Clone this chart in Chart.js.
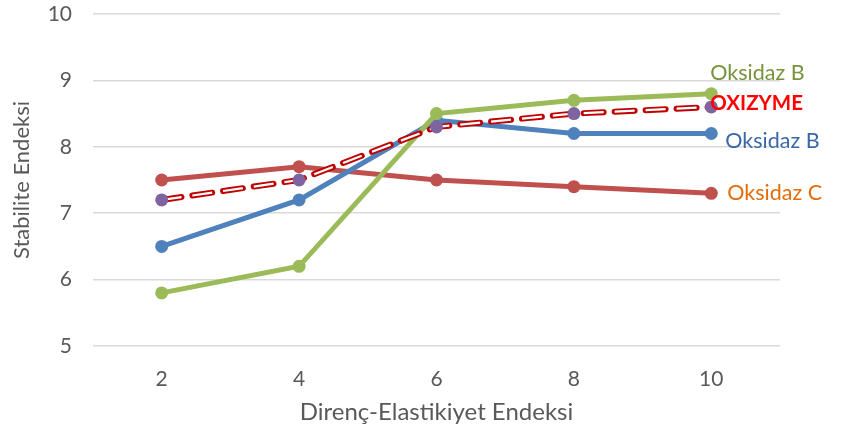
<!DOCTYPE html>
<html>
<head>
<meta charset="utf-8">
<script src="https://cdn.jsdelivr.net/npm/chart.js@4"></script>
<style>
  html, body { margin: 0; padding: 0; background: #fff; }
  #wrap { width: 849px; height: 436px; }
</style>
</head>
<body>
<div id="wrap"><canvas id="chart" width="849" height="436"></canvas></div>
<script>
// x categories (Direnç-Elastikiyet Endeksi)
const categories = ['2', '4', '6', '8', '10'];

// series values (Stabilite Endeksi)
const blueSeries   = [6.5, 7.2, 8.4, 8.2, 8.2];
const redSeries    = [7.5, 7.7, 7.5, 7.4, 7.3];
const greenSeries  = [5.8, 6.2, 8.5, 8.7, 8.8];
const oxizymeSeries = [7.2, 7.5, 8.3, 8.5, 8.6];

const seriesNames = ['Oksidaz B', 'Oksidaz C', 'Oksidaz B', 'OXIZYME'];

const yTicks = [5, 6, 7, 8, 9, 10];

const FONT = 'Lato, "Open Sans", sans-serif';
const GREY = '#595959';

// labels drawn at the right end of each line
const endLabels = {
  id: 'endLabels',
  afterDatasetsDraw(chart) {
    const ctx = chart.ctx;
    const items = [
      { ds: 2, text: seriesNames[2], color: '#77933C', bold: false, dx: -1, dy: -21 },
      { ds: 4, text: seriesNames[3], color: '#FF0000', bold: true,  dx: -1, dy: -4 },
      { ds: 1, text: seriesNames[0], color: '#3A68A6', bold: false, dx: 14, dy: 8 },
      { ds: 0, text: seriesNames[1], color: '#E46C0A', bold: false, dx: 16, dy: 0 }
    ];
    ctx.save();
    ctx.textBaseline = 'middle';
    ctx.textAlign = 'left';
    items.forEach(it => {
      const meta = chart.getDatasetMeta(it.ds);
      const pt = meta.data[meta.data.length - 1];
      ctx.font = (it.bold ? 'bold 20.5px ' : '21.5px ') + FONT;
      ctx.fillStyle = it.color;
      ctx.fillText(it.text, pt.x + it.dx, pt.y + it.dy);
    });
    ctx.restore();
  }
};

new Chart(document.getElementById('chart'), {
  type: 'line',
  data: {
    labels: categories,
    datasets: [
      { label: seriesNames[1], data: redSeries, borderColor: '#C0504D', backgroundColor: '#C0504D',
        borderWidth: 5, pointRadius: 6.5, pointBorderWidth: 0, order: 4 },
      { label: seriesNames[0], data: blueSeries, borderColor: '#4F81BD', backgroundColor: '#4F81BD',
        borderWidth: 5, pointRadius: 6.5, pointBorderWidth: 0, order: 3 },
      { label: seriesNames[2], data: greenSeries, borderColor: '#9BBB59', backgroundColor: '#9BBB59',
        borderWidth: 5, pointRadius: 6.5, pointBorderWidth: 0, order: 2 },
      // dashed outline for OXIZYME: red dashes with a white core
      { label: seriesNames[3] + ' outline', data: oxizymeSeries, borderColor: '#C00000',
        borderWidth: 6, borderDash: [20, 11], borderCapStyle: 'round', pointRadius: 0, order: 1 },
      { label: seriesNames[3], data: oxizymeSeries, borderColor: '#FFFFFF',
        borderWidth: 2.2, borderDash: [20, 11], pointRadius: 6.5, pointBorderWidth: 0,
        pointBackgroundColor: '#8064A2', order: 0 }
    ]
  },
  options: {
    responsive: false,
    animation: false,
    layout: { padding: { top: 14, right: 69, bottom: 0, left: 0 } },
    plugins: { legend: { display: false }, tooltip: { enabled: false } },
    scales: {
      x: {
        offset: true,
        grid: { display: false, drawTicks: false },
        border: { display: false },
        ticks: { color: GREY, font: { family: FONT, size: 21 }, padding: 21 },
        title: { display: true, text: 'Direnç-Elastikiyet Endeksi', color: GREY,
                 font: { family: FONT, size: 24 }, padding: { top: 0, bottom: 9 } },
        afterFit(scale) {
          scale.height = 90;
          scale.paddingLeft = 0;
          scale.paddingRight = 0;
        }
      },
      y: {
        min: 5, max: 10,
        afterBuildTicks(scale) { scale.ticks = yTicks.map(v => ({ value: v })); },
        grid: { color: '#D9D9D9', lineWidth: 1.5, drawTicks: false },
        border: { display: false },
        ticks: { color: GREY, font: { family: FONT, size: 21 }, padding: 21 },
        title: { display: true, text: 'Stabilite Endeksi', color: GREY,
                 font: { family: FONT, size: 22 }, padding: { top: 9, bottom: 0 } },
        afterFit(scale) {
          scale.width = 93;
          scale.paddingTop = 0;
          scale.paddingBottom = 0;
        }
      }
    }
  },
  plugins: [endLabels]
});
</script>
</body>
</html>
